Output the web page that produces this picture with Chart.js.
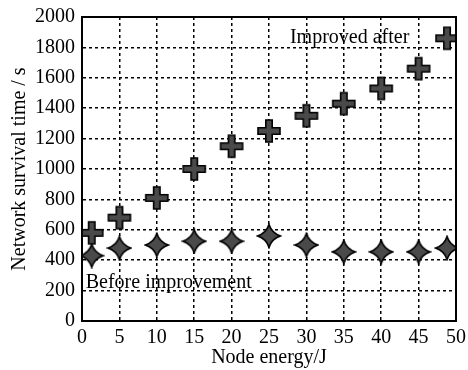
<!DOCTYPE html>
<html>
<head>
<meta charset="utf-8">
<script src="https://cdn.jsdelivr.net/npm/chart.js@4/dist/chart.umd.min.js"></script>
<style>
html,body{margin:0;padding:0;background:#fff;}
#wrap{width:468px;height:370px;}
</style>
</head>
<body>
<div id="wrap"><canvas id="c" width="468" height="370"></canvas></div>
<script>
const energyX = [1.3, 5, 10, 15, 20, 25, 30, 35, 40, 45, 48.8];
const improvedAfter = [580, 680, 810, 1000, 1150, 1250, 1350, 1430, 1530, 1660, 1860];
const beforeImprovement = [430, 480, 500, 525, 525, 560, 500, 455, 455, 455, 480];
const seriesNames = ['Improved after', 'Before improvement'];
const xTitle = 'Node energy/J';
const yTitle = 'Network survival time / s';
const FONT = "'Liberation Serif', 'Times New Roman', serif";
Chart.defaults.font.family = FONT;
Chart.defaults.color = '#000';

function makePlus() {
  const c = document.createElement('canvas');
  c.width = 26; c.height = 26;
  const g = c.getContext('2d');
  const m = 13, L = 11, t = 3.2;
  g.beginPath();
  g.moveTo(m - t, m - L); g.lineTo(m + t, m - L); g.lineTo(m + t, m - t);
  g.lineTo(m + L, m - t); g.lineTo(m + L, m + t); g.lineTo(m + t, m + t);
  g.lineTo(m + t, m + L); g.lineTo(m - t, m + L); g.lineTo(m - t, m + t);
  g.lineTo(m - L, m + t); g.lineTo(m - L, m - t); g.lineTo(m - t, m - t);
  g.closePath();
  g.fillStyle = '#4a4a4a'; g.fill();
  g.lineWidth = 1.6; g.strokeStyle = '#000'; g.stroke();
  return c;
}
function makeStar() {
  const c = document.createElement('canvas');
  c.width = 26; c.height = 26;
  const g = c.getContext('2d');
  const m = 13, R = 11.5, k = 2.8;
  g.beginPath();
  g.moveTo(m, m - R);
  g.quadraticCurveTo(m + k, m - k, m + R, m);
  g.quadraticCurveTo(m + k, m + k, m, m + R);
  g.quadraticCurveTo(m - k, m + k, m - R, m);
  g.quadraticCurveTo(m - k, m - k, m, m - R);
  g.closePath();
  g.fillStyle = '#4a4a4a'; g.fill();
  g.lineWidth = 1.6; g.strokeStyle = '#000'; g.stroke();
  return c;
}

const labelPlugin = {
  id: 'labels',
  afterDatasetsDraw(chart) {
    const {ctx, scales: {x, y}, chartArea: a} = chart;
    ctx.save();
    ctx.strokeStyle = '#000';
    ctx.lineWidth = 2;
    ctx.strokeRect(a.left, a.top, a.right - a.left, a.bottom - a.top);
    ctx.fillStyle = '#000';
    ctx.font = '20px ' + FONT;
    ctx.textBaseline = 'alphabetic';
    ctx.textAlign = 'left';
    ctx.fillText(seriesNames[0], x.getPixelForValue(27.8), y.getPixelForValue(1829));
    ctx.fillText(seriesNames[1], x.getPixelForValue(0.5), y.getPixelForValue(217));
    ctx.restore();
  }
};

new Chart(document.getElementById('c'), {
  type: 'scatter',
  data: {
    datasets: [
      {label: seriesNames[0], data: energyX.map((v, i) => ({x: v, y: improvedAfter[i]})),
       pointStyle: makePlus(), pointRadius: 11, pointHoverRadius: 11},
      {label: seriesNames[1], data: energyX.map((v, i) => ({x: v, y: beforeImprovement[i]})),
       pointStyle: makeStar(), pointRadius: 11, pointHoverRadius: 11}
    ]
  },
  options: {
    responsive: false,
    animation: false,
    events: [],
    layout: {padding: {left: 0, right: 3, top: 17, bottom: 0}},
    plugins: {legend: {display: false}, tooltip: {enabled: false}},
    scales: {
      x: {
        type: 'linear', min: 0, max: 50,
        ticks: {stepSize: 5, color: '#000', font: {family: FONT, size: 20}, padding: 5, maxRotation: 0,
                callback: v => String(v)},
        grid: {color: '#000', lineWidth: 1.5, drawTicks: false},
        border: {display: true, color: '#000', width: 2, dash: [3, 3]},
        title: {display: true, text: xTitle, color: '#000', font: {family: FONT, size: 20}, padding: {top: 0, bottom: 0}},
        afterFit(s) { s.height = 49; s.paddingRight = 0; s.paddingLeft = 0; }
      },
      y: {
        min: 0, max: 2000,
        ticks: {stepSize: 200, color: '#000', font: {family: FONT, size: 20}, padding: 7,
                callback: v => String(v)},
        grid: {color: '#000', lineWidth: 1.5, drawTicks: false},
        border: {display: true, color: '#000', width: 2, dash: [3, 3]},
        title: {display: true, text: yTitle, color: '#000', font: {family: FONT, size: 20}, padding: {top: 8, bottom: 0}},
        afterFit(s) { s.width = 82; s.paddingTop = 0; s.paddingBottom = 0; }
      }
    }
  },
  plugins: [labelPlugin]
});
</script>
</body>
</html>
